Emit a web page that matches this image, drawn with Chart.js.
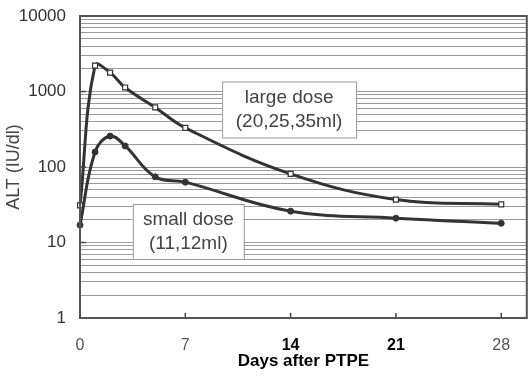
<!DOCTYPE html>
<html>
<head>
<meta charset="utf-8">
<script src="https://cdn.jsdelivr.net/npm/chart.js@4.4.1/dist/chart.umd.min.js"></script>
<style>
  html, body { margin: 0; padding: 0; background: #fff; }
  #wrap { width: 532px; height: 376px; }
</style>
</head>
<body>
<div id="wrap"><canvas id="myChart"></canvas></div>
<script>
let days = [0, 1, 2, 3, 5, 7, 14, 21, 28];
let largeDose = [31, 2200, 1780, 1130, 615, 330, 81, 37, 32];
let smallDose = [17, 158, 257, 190, 74, 63, 26, 21, 18];

let xTicks = [0, 7, 14, 21, 28];
let xTicksBold = [14, 21];
let yTicks = [1, 10, 100, 1000, 10000];

let largeLabel = ["large dose", "(20,25,35ml)"];
let smallLabel = ["small dose", "(11,12ml)"];

const FONT = "'Liberation Sans', Arial, sans-serif";

// where the two text boxes sit, in data units
const boxes = [
  { lines: largeLabel, x: 13.9, y: 577, w: 134, h: 56 },
  { lines: smallLabel, x: 7.2, y: 14, w: 111, h: 55 },
];

function toPoints(values) {
  return days.map((d, i) => ({ x: d, y: values[i] }));
}

const frame = {
  id: "frame",
  beforeDatasetsDraw(chart) {
    const ctx = chart.ctx;
    const sx = chart.scales.x;
    const sy = chart.scales.y;
    ctx.save();
    for (const b of boxes) {
      const cx = sx.getPixelForValue(b.x);
      const cy = sy.getPixelForValue(b.y);
      ctx.fillStyle = "#fff";
      ctx.fillRect(cx - b.w / 2, cy - b.h / 2, b.w, b.h);
      ctx.strokeStyle = "#9a9a9a";
      ctx.lineWidth = 1;
      ctx.strokeRect(cx - b.w / 2 + 0.5, cy - b.h / 2 + 0.5, b.w, b.h);
      ctx.fillStyle = "#444";
      ctx.font = "19px " + FONT;
      ctx.textAlign = "center";
      ctx.textBaseline = "middle";
      ctx.fillText(b.lines[0], cx, cy - 12);
      ctx.fillText(b.lines[1], cx, cy + 12);
    }
    ctx.restore();
  },
  afterDraw(chart) {
    const ctx = chart.ctx;
    const a = chart.chartArea;
    const sx = chart.scales.x;
    const sy = chart.scales.y;
    ctx.save();
    ctx.strokeStyle = "#444";
    ctx.lineWidth = 1.5;
    ctx.beginPath();
    for (const v of xTicks.slice(1)) {
      const px = sx.getPixelForValue(v);
      ctx.moveTo(px, a.bottom);
      ctx.lineTo(px, a.bottom - 5);
    }
    for (const v of yTicks.slice(1, -1)) {
      const py = sy.getPixelForValue(v);
      ctx.moveTo(a.left, py);
      ctx.lineTo(a.left + 6, py);
    }
    ctx.stroke();
    ctx.strokeStyle = "#555";
    ctx.lineWidth = 2;
    ctx.strokeRect(a.left, a.top, a.right - a.left, a.bottom - a.top);
    ctx.restore();
  },
};

const datasets = [
  {
    label: "large dose",
    data: toPoints(largeDose),
    borderColor: "#333",
    borderWidth: 3,
    tension: 0.4,
    pointStyle: "rect",
    pointRadius: 3.5,
    pointBackgroundColor: "#fff",
    pointBorderColor: "#333",
    pointBorderWidth: 1.2,
    clip: false,
  },
  {
    label: "small dose",
    data: toPoints(smallDose),
    borderColor: "#333",
    borderWidth: 3,
    tension: 0.4,
    pointStyle: "circle",
    pointRadius: 3,
    pointBackgroundColor: "#333",
    pointBorderColor: "#333",
    pointBorderWidth: 1,
    clip: false,
  },
];

const conf = {
  type: "line",
  data: { datasets },
  options: {
    animation: false,
    responsive: true,
    maintainAspectRatio: false,
    layout: { padding: { top: 16, right: 4, left: 0, bottom: 0 } },
    plugins: {
      legend: { display: false },
      tooltip: { enabled: false },
    },
    scales: {
      x: {
        type: "linear",
        min: 0,
        max: 29.7,
        grid: { display: false, drawTicks: false },
        border: { display: true, color: "#444", width: 2 },
        afterBuildTicks: (scale) => {
          scale.ticks = xTicks.map((v) => ({ value: v }));
        },
        afterFit: (scale) => {
          scale.height = 58;
          scale.paddingLeft = 0;
          scale.paddingRight = 0;
        },
        ticks: {
          padding: 18,
          maxRotation: 0,
          autoSkip: false,
          font: (c) => ({
            family: FONT,
            size: 16,
            weight: xTicksBold.includes(c.tick && c.tick.value) ? "bold" : "normal",
          }),
          color: (c) => (xTicksBold.includes(c.tick && c.tick.value) ? "#000" : "#555"),
        },
        title: {
          display: true,
          text: "Days after PTPE",
          color: "#000",
          font: { family: FONT, size: 17, weight: "bold" },
          padding: { top: 0, bottom: 4 },
        },
      },
      y: {
        type: "logarithmic",
        min: 1,
        max: 10000,
        grid: { color: "#9a9a9a", lineWidth: 1, drawTicks: false },
        border: { display: true, color: "#444", width: 2 },
        afterBuildTicks: (scale) => {
          let ticks = [];
          for (let k = 0; k < yTicks.length - 1; k++) {
            for (let m = 1; m < 10; m++) {
              ticks.push({ value: m * yTicks[k] });
            }
          }
          ticks.push({ value: yTicks[yTicks.length - 1] });
          scale.ticks = ticks;
        },
        afterFit: (scale) => {
          scale.width = 80;
          scale.paddingTop = 0;
          scale.paddingBottom = 0;
        },
        ticks: {
          padding: 14,
          autoSkip: false,
          color: "#333",
          font: { family: FONT, size: 17 },
          callback: (value) => (yTicks.includes(value) ? String(value) : ""),
        },
        title: {
          display: true,
          text: "ALT (IU/dl)",
          color: "#444",
          font: { family: FONT, size: 18 },
          padding: { top: 3, bottom: 0 },
        },
      },
    },
  },
  plugins: [frame],
};

new Chart(document.querySelector("#myChart"), conf);
</script>
</body>
</html>
